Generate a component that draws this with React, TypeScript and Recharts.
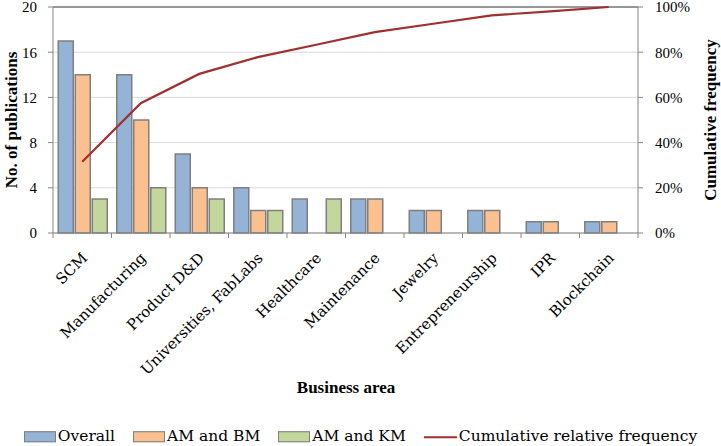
import {
  ComposedChart,
  Bar,
  Line,
  XAxis,
  YAxis,
  CartesianGrid,
  ReferenceLine,
} from "recharts";

const categories = [
  "SCM",
  "Manufacturing",
  "Product D&D",
  "Universities, FabLabs",
  "Healthcare",
  "Maintenance",
  "Jewelry",
  "Entrepreneurship",
  "IPR",
  "Blockchain",
];
const overall = [17, 14, 7, 4, 3, 3, 2, 2, 1, 1];
const amBm = [14, 10, 4, 2, 0, 3, 2, 2, 1, 1];
const amKm = [3, 4, 3, 2, 3, 0, 0, 0, 0, 0];
const cumulative = [0.315, 0.574, 0.704, 0.778, 0.833, 0.889, 0.926, 0.963, 0.981, 1];
const leftTicks = [0, 4, 8, 12, 16, 20];
const rightTicks = [0, 0.2, 0.4, 0.6, 0.8, 1];

const W = 721;
const H = 446;
const PLOT_LEFT = 53;
const PLOT_RIGHT = 638;
const PLOT_TOP = 7;
const PLOT_BOTTOM = 233;
const BAND = (PLOT_RIGHT - PLOT_LEFT) / categories.length;

const AXIS_GRAY = "#868686";
const SERIF = "'DejaVu Serif', serif";
const TIMES = "'Liberation Serif', serif";

const series = [
  { key: "overall", name: "Overall", color: "#95B3D7" },
  { key: "amBm", name: "AM and BM", color: "#FAC090" },
  { key: "amKm", name: "AM and KM", color: "#C3D69B" },
];
const lineSeries = { key: "cum", name: "Cumulative relative frequency", color: "#A0302F" };

const data = categories.map((name, i) => ({
  name,
  overall: overall[i],
  amBm: amBm[i],
  amKm: amKm[i],
  cum: cumulative[i],
}));

// Excel-style category axis: ticks sit between categories, labels at 45 degrees
function CategoryTick(props: any) {
  const { x, y, payload, index } = props;
  const half = BAND / 2;
  const tx = x + 6;
  const ty = y + 26;
  return (
    <g>
      <line x1={x - half} x2={x - half} y1={y} y2={y + 5} stroke={AXIS_GRAY} />
      {index === categories.length - 1 && (
        <line x1={x + half} x2={x + half} y1={y} y2={y + 5} stroke={AXIS_GRAY} />
      )}
      <text
        x={tx}
        y={ty}
        transform={`rotate(-45 ${tx} ${ty})`}
        textAnchor="end"
        fontFamily={SERIF}
        fontSize={15}
        fill="#000"
      >
        {payload.value}
      </text>
    </g>
  );
}

const titleStyle: React.CSSProperties = {
  position: "absolute",
  fontFamily: TIMES,
  fontWeight: "bold",
  fontSize: 17,
  lineHeight: 1,
  whiteSpace: "nowrap",
  color: "#000",
};

export default function App() {
  return (
    <div style={{ position: "absolute", left: 0, top: 0, width: W, height: H, background: "#fff" }}>
      <ComposedChart
        width={W}
        height={H}
        data={data}
        margin={{ top: PLOT_TOP, right: 0, left: 0, bottom: 0 }}
        barCategoryGap="9%"
        barGap={2}
      >
        <CartesianGrid horizontal vertical={false} stroke="#D9D9D9" yAxisId="left" />
        <XAxis
          dataKey="name"
          height={H - PLOT_BOTTOM}
          interval={0}
          tickSize={0}
          tickMargin={0}
          tick={<CategoryTick />}
          axisLine={{ stroke: AXIS_GRAY }}
          tickLine={false}
        />
        <YAxis
          yAxisId="left"
          width={PLOT_LEFT}
          domain={[0, 20]}
          ticks={leftTicks}
          interval={0}
          tickSize={5}
          tickMargin={11}
          axisLine={{ stroke: AXIS_GRAY }}
          tickLine={{ stroke: AXIS_GRAY }}
          tick={{ fontFamily: TIMES, fontSize: 15, fill: "#000" }}
        />
        <YAxis
          yAxisId="right"
          orientation="right"
          width={W - PLOT_RIGHT}
          domain={[0, 1]}
          ticks={rightTicks}
          interval={0}
          tickSize={5}
          tickMargin={12}
          tickFormatter={(v: number) => `${Math.round(v * 100)}%`}
          axisLine={{ stroke: AXIS_GRAY }}
          tickLine={{ stroke: AXIS_GRAY }}
          tick={{ fontFamily: TIMES, fontSize: 15, fill: "#000", textAnchor: "start" }}
        />
        <ReferenceLine yAxisId="left" y={20} stroke="#404040" strokeWidth={1.2} />
        {series.map((s) => (
          <Bar
            key={s.key}
            yAxisId="left"
            dataKey={s.key}
            name={s.name}
            fill={s.color}
            stroke="#7F7F7F"
            strokeWidth={1.5}
            isAnimationActive={false}
          />
        ))}
        <Line
          yAxisId="right"
          type="linear"
          dataKey={lineSeries.key}
          name={lineSeries.name}
          stroke={lineSeries.color}
          strokeWidth={2.2}
          dot={false}
          activeDot={false}
          isAnimationActive={false}
        />
      </ComposedChart>

      <div style={{ ...titleStyle, left: 11, top: 120, transform: "translate(-50%, -50%) rotate(-90deg)" }}>
        No. of publications
      </div>
      <div style={{ ...titleStyle, left: 710, top: 120, transform: "translate(-50%, -50%) rotate(-90deg)" }}>
        Cumulative frequency
      </div>
      <div style={{ ...titleStyle, left: 346, top: 387, transform: "translate(-50%, -50%)" }}>
        Business area
      </div>

      <div
        style={{
          position: "absolute",
          left: 0,
          top: 437,
          width: W,
          transform: "translateY(-50%)",
          display: "flex",
          justifyContent: "center",
          alignItems: "center",
          gap: 18,
          fontFamily: SERIF,
          fontSize: 15.5,
          lineHeight: 1,
          whiteSpace: "nowrap",
        }}
      >
        {series.map((s) => (
          <div key={s.key} style={{ display: "flex", alignItems: "center", gap: 2 }}>
            <span
              style={{
                display: "inline-block",
                width: 30,
                height: 9,
                background: s.color,
                border: "1px solid #7F7F7F",
              }}
            />
            <span>{s.name}</span>
          </div>
        ))}
        <div style={{ display: "flex", alignItems: "center", gap: 2 }}>
          <span style={{ display: "inline-block", width: 33, height: 2, background: lineSeries.color }} />
          <span>{lineSeries.name}</span>
        </div>
      </div>
    </div>
  );
}
